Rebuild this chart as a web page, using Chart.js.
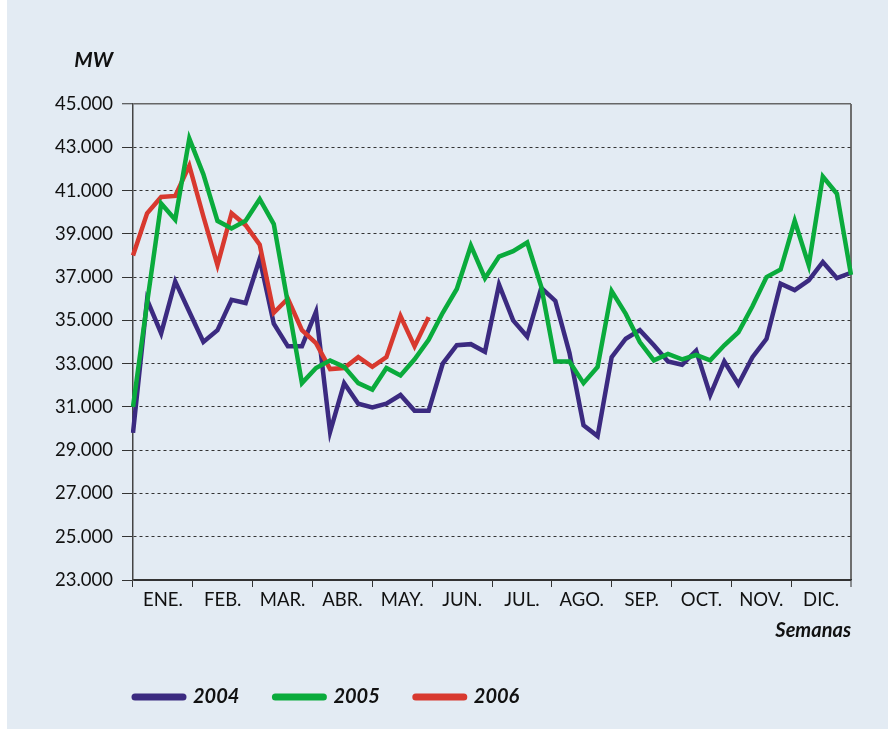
<!DOCTYPE html>
<html>
<head>
<meta charset="utf-8">
<script src="https://cdn.jsdelivr.net/npm/chart.js@4"></script>
<style>
  html, body { margin: 0; padding: 0; background: #ffffff; }
  #wrap { position: absolute; left: 7px; top: 0; width: 881px; height: 729px; background: #e3ebf3; }
  canvas { display: block; }
</style>
</head>
<body>
<div id="wrap"><canvas id="c" width="881" height="729"></canvas></div>
<script>
const weeks = [1,2,3,4,5,6,7,8,9,10,11,12,13,14,15,16,17,18,19,20,21,22,23,24,25,26,
               27,28,29,30,31,32,33,34,35,36,37,38,39,40,41,42,43,44,45,46,47,48,49,50,51,52];
const months = ['ENE.','FEB.','MAR.','ABR.','MAY.','JUN.','JUL.','AGO.','SEP.','OCT.','NOV.','DIC.'];
const seriesNames = ['2004','2005','2006'];

const values2004 = [29800,35950,34400,36800,35400,34000,34550,35950,35800,37850,
                    34850,33800,33800,35400,29850,32100,31150,30980,31150,31550,
                    30820,30820,33000,33850,33900,33550,36650,35000,34250,36500,
                    35900,33500,30150,29650,33300,34150,34550,33850,33100,32950,
                    33600,31550,33100,32050,33300,34150,36700,36400,36850,37700,
                    36950,37200];
const values2005 = [31000,35800,40400,39650,43400,41750,39600,39250,39600,40600,
                    39450,35800,32100,32800,33150,32850,32100,31800,32800,32450,
                    33200,34100,35350,36450,38450,36950,37950,38200,38600,36550,
                    33100,33100,32100,32850,36350,35300,34000,33150,33450,33200,
                    33400,33150,33850,34450,35650,37000,37350,39600,37550,41650,
                    40850,37100];
const values2006 = [38000,39950,40700,40750,42150,39800,37550,39950,39400,38500,
                    35350,36000,34550,33950,32750,32800,33300,32850,33300,35200,
                    33800,35150];

const yMin = 23000, yMax = 45000, yStep = 2000;
const yUnit = 'MW';
const xTitle = 'Semanas';

const colors = ['#3b2a80', '#0aab3c', '#d8392f'];

Chart.defaults.font.family = 'Lato, "Open Sans", sans-serif';
Chart.defaults.color = '#111';

const unitLabel = {
  id: 'unitLabel',
  afterLayout(chart) {
    // legend starts under the plot, as in the original
    if (chart.legend) { chart.legend.left = 92; }
  },
  afterDraw(chart) {
    const ctx = chart.ctx;
    ctx.save();
    ctx.font = 'italic bold 21px Lato, sans-serif';
    ctx.fillStyle = '#111';
    ctx.textAlign = 'right';
    ctx.textBaseline = 'middle';
    ctx.fillText(yUnit, 106, 60);
    ctx.restore();
  }
};

new Chart(document.getElementById('c'), {
  type: 'line',
  data: {
    labels: weeks,
    datasets: [
      { label: seriesNames[0], data: values2004, borderColor: colors[0], backgroundColor: colors[0], order: 3 },
      { label: seriesNames[1], data: values2005, borderColor: colors[1], backgroundColor: colors[1], order: 1 },
      { label: seriesNames[2], data: values2006, borderColor: colors[2], backgroundColor: colors[2], order: 2 }
    ].map(d => Object.assign(d, {
      borderWidth: 4.5, pointRadius: 0, pointHoverRadius: 0, tension: 0,
      borderJoinStyle: 'miter', borderCapStyle: 'butt', fill: false, xAxisID: 'x'
    }))
  },
  options: {
    responsive: false,
    devicePixelRatio: 1,
    animation: false,
    layout: { padding: { left: 0, right: 37, top: 104, bottom: 12 } },
    scales: {
      x: { type: 'category', display: false, offset: false },
      months: {
        type: 'category',
        labels: months,
        position: 'bottom',
        offset: true,
        afterFit: s => { s.height = 71; },
        grid: {
          offset: true,
          drawOnChartArea: true,
          color: ctx => ctx.tick ? 'rgba(0,0,0,0)' : '#6e6e6e',
          lineWidth: ctx => ctx.tick ? 1 : 2,
          tickLength: 7,
          tickColor: '#333',
          tickWidth: 1
        },
        border: { display: true, color: '#333', width: 1.5 },
        ticks: { autoSkip: false, maxRotation: 0, minRotation: 0, padding: 2, color: '#111', font: { size: 18.5 } },
        title: {
          display: true, text: xTitle, align: 'end', color: '#111',
          font: { size: 20, weight: 'bold', style: 'italic' },
          padding: { top: 0, bottom: 8 }
        }
      },
      y: {
        min: yMin, max: yMax,
        afterFit: s => { s.width = 126; },
        ticks: {
          stepSize: yStep,
          padding: 9,
          color: '#111',
          font: { size: 18.5 },
          callback: v => (v / 1000).toFixed(3)
        },
        grid: {
          color: ctx => (ctx.tick && ctx.tick.value === yMax) ? '#666' : '#333',
          lineWidth: ctx => (ctx.tick && ctx.tick.value === yMax) ? 1.5 : 1,
          tickLength: 11,
          tickColor: '#333',
          tickWidth: 1
        },
        border: {
          display: true, color: '#444', width: 1.5,
          dash: ctx => (ctx.tick && ctx.tick.value < yMax && ctx.tick.value > yMin) ? [3, 3] : []
        }
      }
    },
    plugins: {
      tooltip: { enabled: false },
      title: { display: false },
      legend: {
        position: 'bottom',
        align: 'start',
        fullSize: true,
        labels: {
          usePointStyle: true,
          pointStyle: 'line',
          pointStyleWidth: 48,
          padding: 36,
          color: '#111',
          font: { size: 20, weight: 'bold', style: 'italic' },
          sort: (a, b) => a.datasetIndex - b.datasetIndex,
          generateLabels: chart => Chart.defaults.plugins.legend.labels.generateLabels(chart)
            .map(l => Object.assign(l, { lineWidth: 7, lineCap: 'round', pointStyle: 'line' }))
        }
      }
    }
  },
  plugins: [unitLabel]
});
</script>
</body>
</html>
